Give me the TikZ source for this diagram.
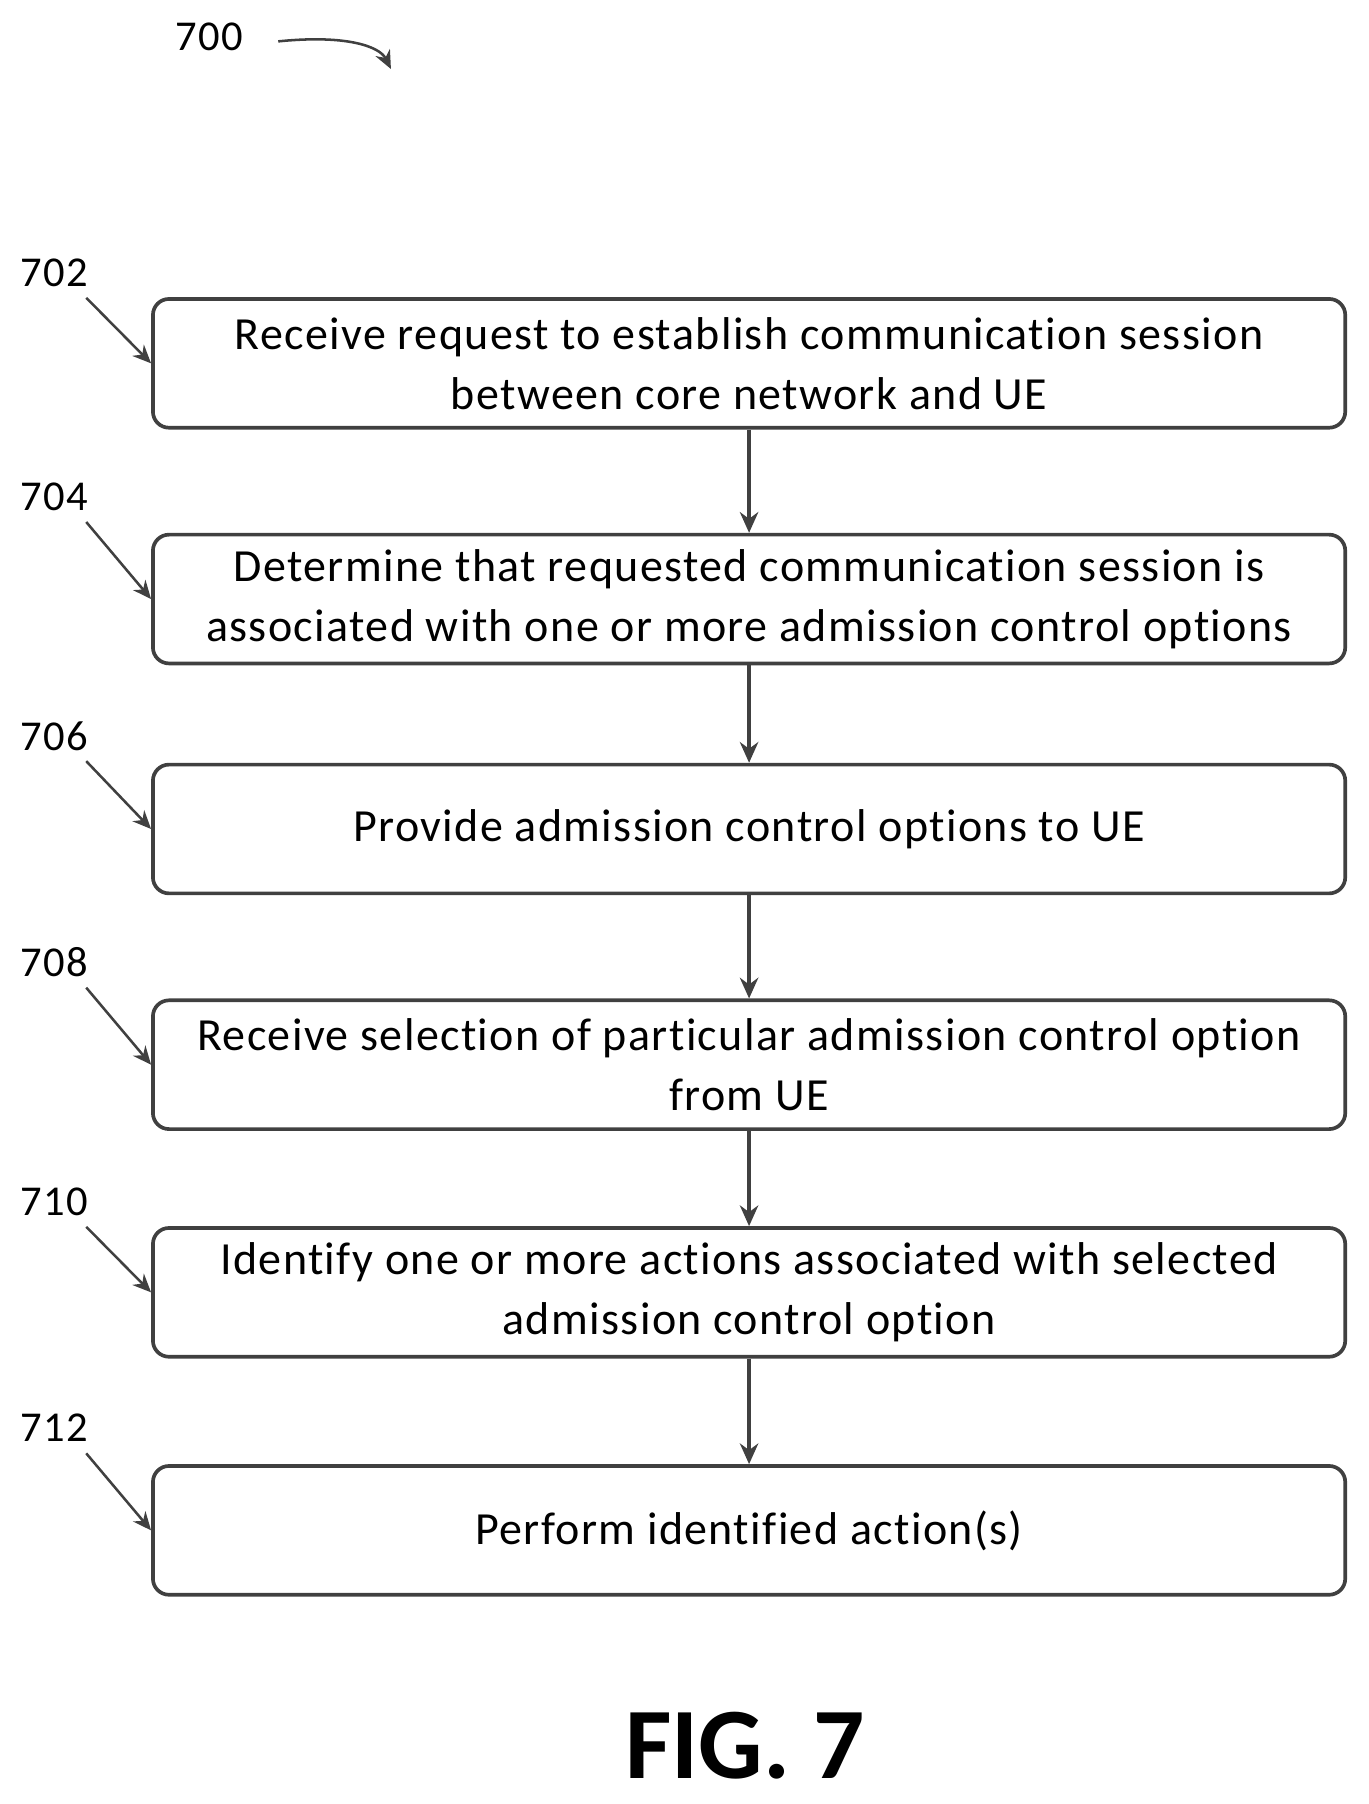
\documentclass[tikz,border=0pt]{standalone}
\usepackage{fontspec}
\setmainfont{Carlito}[Ligatures={NoCommon},LetterSpace=3]
\usetikzlibrary{arrows.meta}
\begin{document}
\begin{tikzpicture}[x=0.5pt,y=-0.5pt,
  box/.style={draw=black!75,line width=1.6pt,rounded corners=7pt,minimum width=518.5pt,minimum height=56pt,align=center,font=\fontsize{20}{26}\selectfont,inner sep=0pt},
  lab/.style={font=\fontsize{18.5}{20}\selectfont},
  arr/.style={draw=black!75,line width=1.6pt,-{Stealth[length=9pt,width=8pt]}},
  larr/.style={draw=black!75,line width=1.1pt,-{Stealth[length=8pt,width=7pt]}}]
\useasboundingbox (0,0) rectangle (1190,1569);
\node[box] (b1) at (651.5,316) {Receive request to establish communication session\\between core network and UE};
\node[box] (b2) at (651.5,521) {Determine that requested communication session is\\associated with one or more admission control options};
\node[box] (b3) at (651.5,721) {Provide admission control options to UE};
\node[box] (b4) at (651.5,926) {Receive selection of particular admission control option\\from UE};
\node[box] (b5) at (651.5,1124) {Identify one or more actions associated with selected\\admission control option};
\node[box] (b6) at (651.5,1331) {Perform identified action(s)};
\foreach \a/\b in {b1/b2,b2/b3,b3/b4,b4/b5,b5/b6} \draw[arr] (\a) -- (\b);
\foreach \n/\y/\b in {702/237/b1,704/432/b2,706/640/b3,708/837/b4,710/1045/b5,712/1242/b6}{
  \node[lab] (l\n) at (47,\y) {\n};
  \coordinate (s\n) at (75,{\y+22});
  \draw[larr] (s\n) -- (\b.west);
}
\node[lab] (l700) at (182,32) {700};
\coordinate (c1) at (242,36);
\coordinate (c2) at (340,60);
\draw[larr] (c1) .. controls (300,30) and (330,40) .. (c2);
\node[font=\bfseries\fontsize{44}{48}\addfontfeature{LetterSpace=0}] (fig) at (648,1518) {FIG. 7};
\end{tikzpicture}
\end{document}
